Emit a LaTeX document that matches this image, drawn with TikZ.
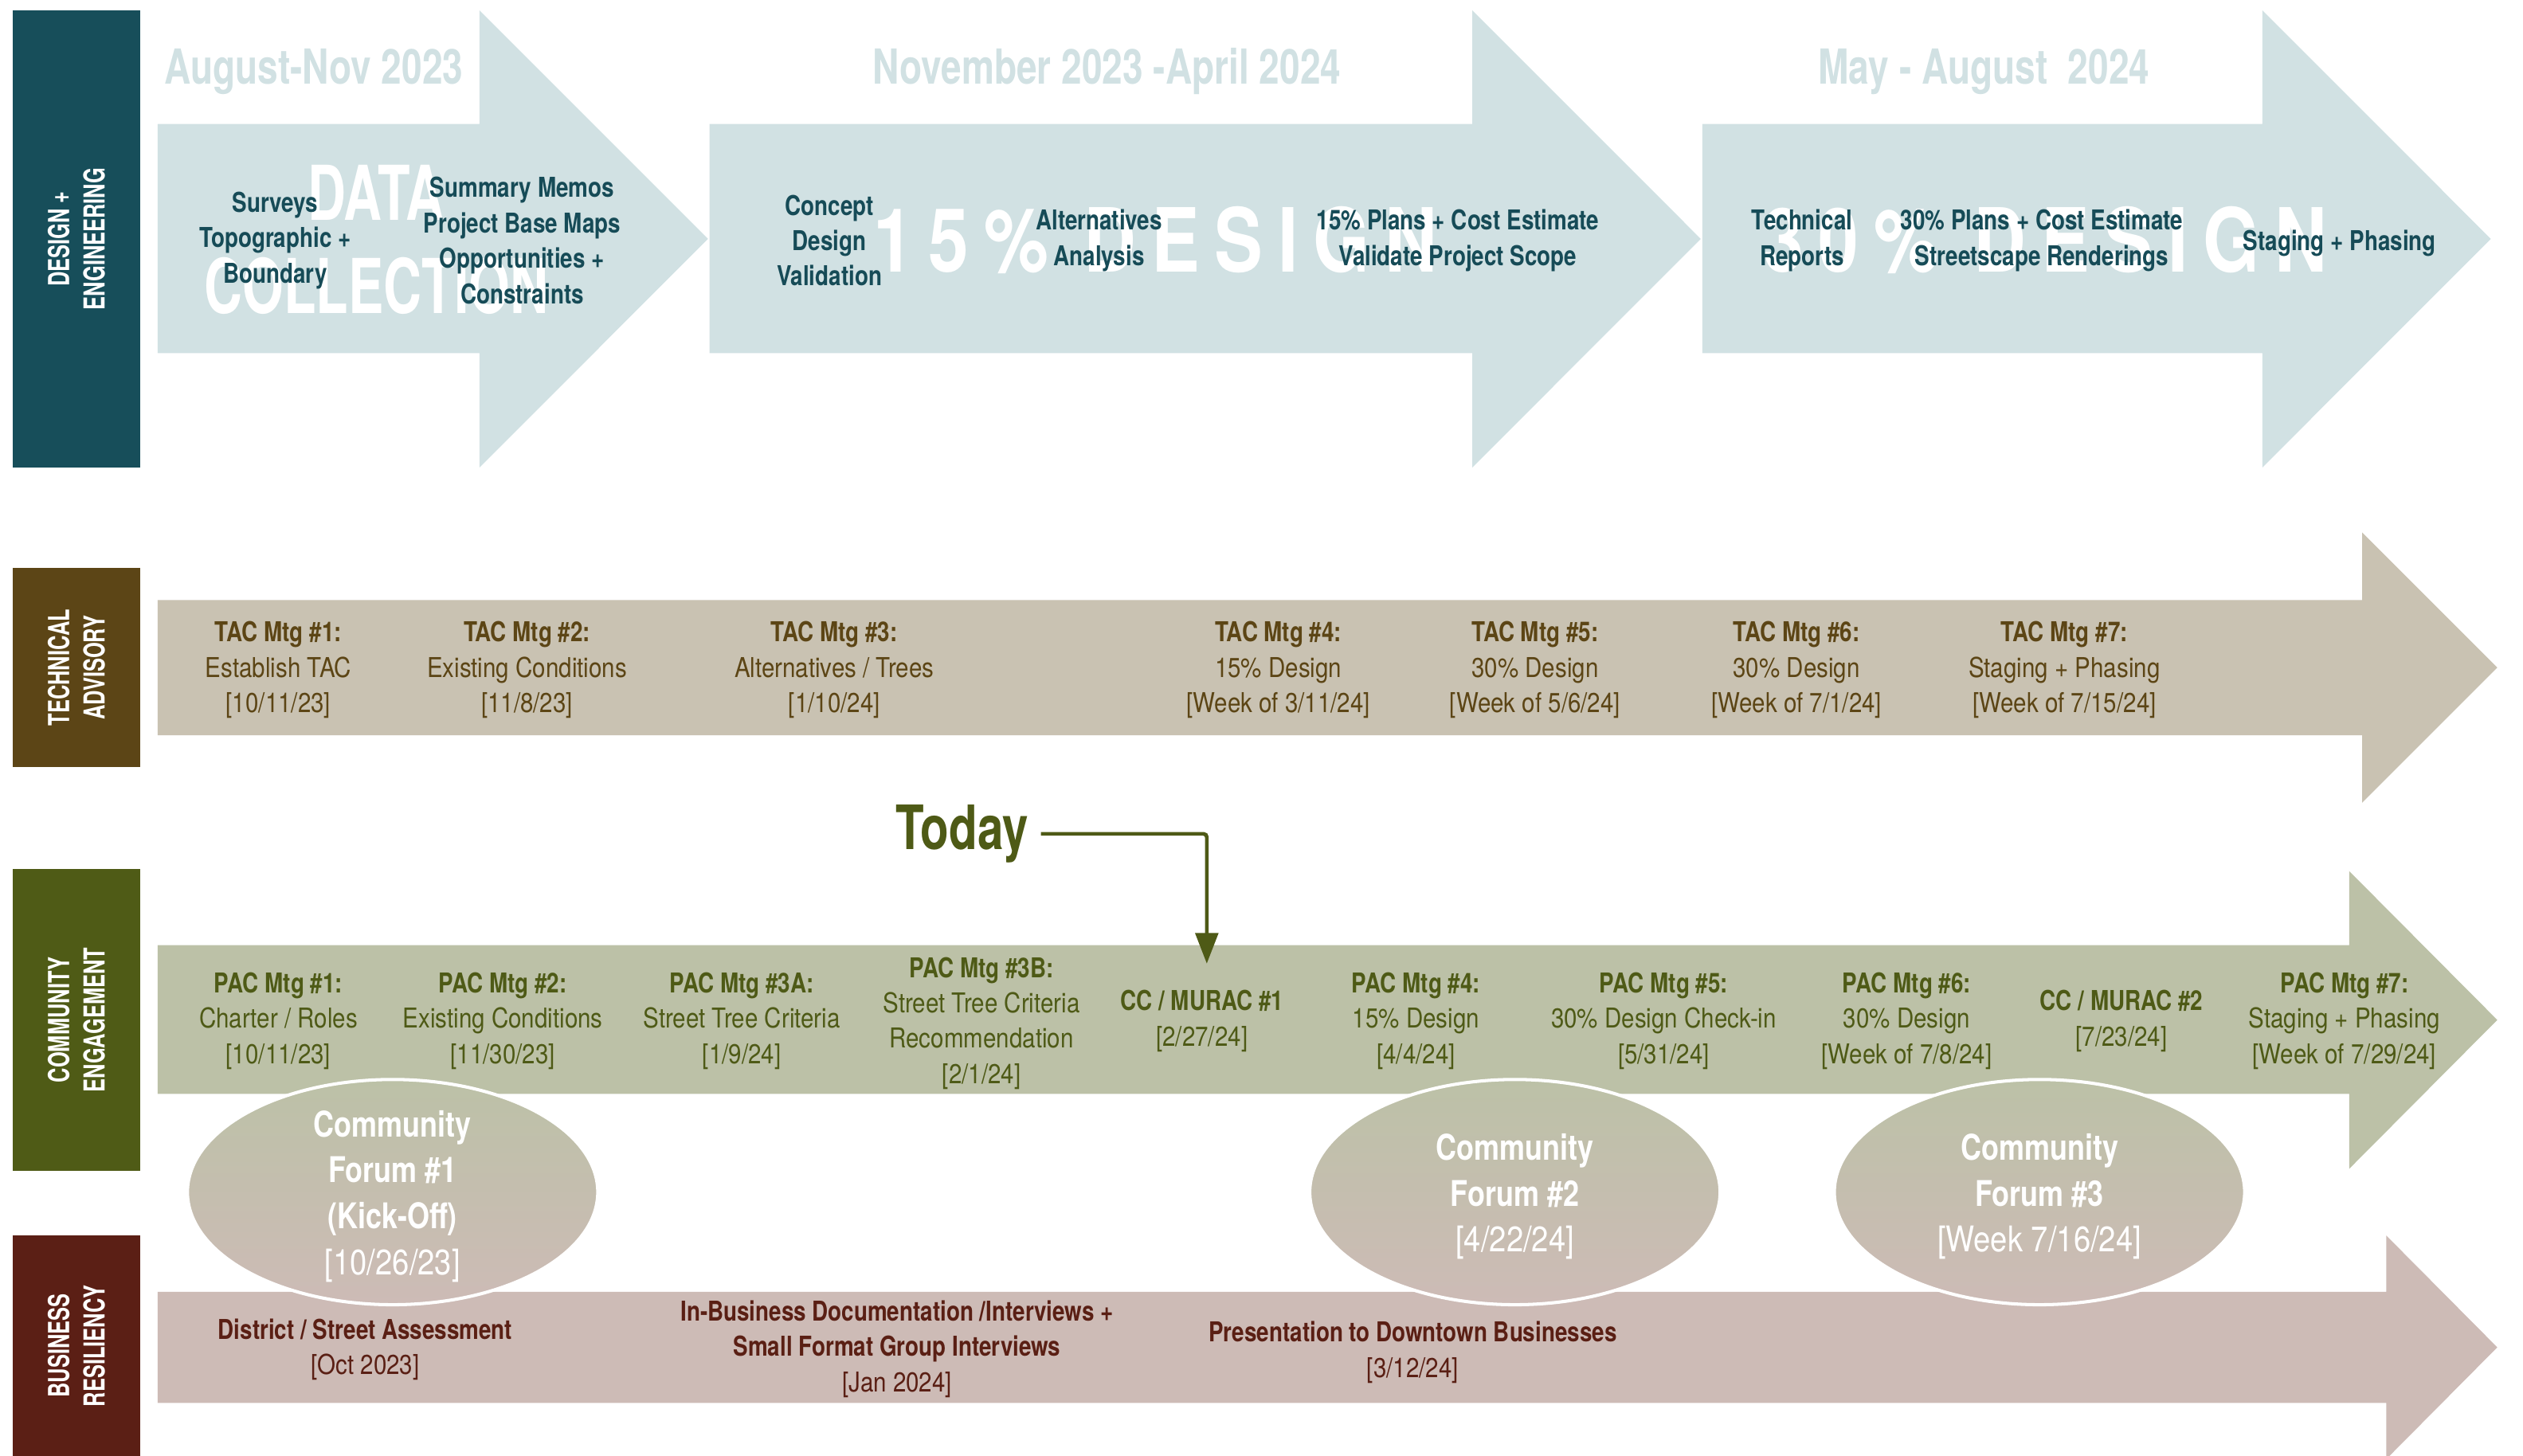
\documentclass[tikz,border=0pt]{standalone}
\usepackage{fontspec}
\setmainfont{TeX Gyre Heros}
\newfontfamily\condR{TeX Gyre Heros}[FakeStretch=0.86]
\newfontfamily\condB{TeX Gyre Heros}[FakeStretch=0.81]
\newfontfamily\condT{TeX Gyre Heros}[FakeStretch=0.76]
\newfontfamily\condW{TeX Gyre Heros}[FakeStretch=0.70]
\newfontfamily\condL{TeX Gyre Heros}[FakeStretch=0.82, LetterSpace=17]
\usetikzlibrary{shapes.geometric, arrows.meta}
\definecolor{deBar}{HTML}{174E5A}
\definecolor{deText}{HTML}{164B57}
\definecolor{deFill}{HTML}{D1E1E3}
\definecolor{taBar}{HTML}{5C4516}
\definecolor{taText}{HTML}{5C4515}
\definecolor{taFill}{HTML}{C9C2B2}
\definecolor{ceBar}{HTML}{4F5B16}
\definecolor{ceText}{HTML}{4E5A16}
\definecolor{ceFill}{HTML}{BCC1A7}
\definecolor{brBar}{HTML}{5B1F15}
\definecolor{brText}{HTML}{5A1F14}
\definecolor{brFill}{HTML}{CDBBB6}
\begin{document}
\begin{tikzpicture}[x=1pt, y=-1pt,
  sidebar/.style={rotate=90, inner sep=0pt, text=white, align=center,
    font=\condW\bfseries\fontsize{18}{22}\selectfont, minimum height=79.2pt},
  deitem/.style={text=deText, align=center, inner sep=0pt,
    font=\condB\bfseries\fontsize{17}{22}\selectfont},
  datehead/.style={text=deFill, anchor=base, inner sep=0pt,
    font=\condT\bfseries\fontsize{30}{34}\selectfont},
  wmark/.style={text=white, anchor=base, inner sep=0pt,
    font=\condW\bfseries\fontsize{47}{58}\selectfont},
  wspaced/.style={text=white, anchor=base, inner sep=0pt,
    font=\condL\bfseries\fontsize{55}{60}\selectfont},
  tac/.style={text=taText, align=center, inner sep=0pt,
    font=\condR\fontsize{17}{22}\selectfont},
  pac/.style={text=ceText, align=center, inner sep=0pt,
    font=\condR\fontsize{17}{22}\selectfont},
  bri/.style={text=brText, align=center, inner sep=0pt,
    font=\condR\fontsize{17}{22}\selectfont},
  forum/.style={ellipse, minimum width=255pt, minimum height=140pt, inner sep=0pt,
    draw=white, line width=2pt, top color=ceFill, bottom color=brFill},
  forumtxt/.style={text=white, align=center, inner sep=0pt,
    font=\condR\fontsize{22}{28.5}\selectfont},
  todayline/.style={draw=ceText, line width=2.3pt, rounded corners=2pt,
    shorten <=7.5pt, -{Triangle[length=19pt,width=14pt]}}
]
\useasboundingbox (0,0) rectangle (1568,905);

% ---------- side bars ----------
\node[sidebar, fill=deBar, minimum width=284.2pt] (sDE) at (47.5,148.5) {DESIGN +\\ENGINEERING};
\node[sidebar, fill=taBar, minimum width=124pt] (sTA) at (47.5,415) {TECHNICAL\\ADVISORY};
\node[sidebar, fill=ceBar, minimum width=188pt] (sCE) at (47.5,634) {COMMUNITY\\ENGAGEMENT};
\node[sidebar, fill=brBar, minimum width=137pt] (sBR) at (47.5,836.5) {BUSINESS\\RESILIENCY};

% ---------- arrows ----------
\fill[deFill] (98,77) -- (298,77) -- (298,6.4) -- (440,148.5) -- (298,290.6) -- (298,219.5) -- (98,219.5) -- cycle;
\fill[deFill] (441,77) -- (915,77) -- (915,6.4) -- (1057,148.5) -- (915,290.6) -- (915,219.5) -- (441,219.5) -- cycle;
\fill[deFill] (1058,77) -- (1406,77) -- (1406,6.4) -- (1548,148.5) -- (1406,290.6) -- (1406,219.5) -- (1058,219.5) -- cycle;
\fill[taFill] (98,373) -- (1468,373) -- (1468,331) -- (1552,415) -- (1468,499) -- (1468,457) -- (98,457) -- cycle;
\fill[ceFill] (98,587.5) -- (1460,587.5) -- (1460,541.5) -- (1552,634) -- (1460,726.5) -- (1460,680) -- (98,680) -- cycle;
\fill[brFill] (98,803) -- (1483,803) -- (1483,768) -- (1552,837.5) -- (1483,907) -- (1483,872) -- (98,872) -- cycle;

% ---------- date headers ----------
\node[datehead] (h1) at (195,52) {August-Nov 2023};
\node[datehead] (h2) at (688,52) {November 2023 -April 2024};
\node[datehead] (h3) at (1233,52) {May - August\ \ 2024};

% ---------- watermarks ----------
\node[wmark] (wdata) at (233.5,137) {DATA};
\node[wmark] (wcoll) at (234,195) {COLLECTION};
\node[wspaced] (w15) at (718,169) {15\% DESIGN};
\node[wspaced] (w30) at (1271,169) {30\% DESIGN};

% ---------- design + engineering items ----------
\node[deitem] (d1) at (171,149.5) {Surveys\\Topographic +\\Boundary};
\node[deitem] (d2) at (324.5,149.5) {Summary Memos\\Project Base Maps\\Opportunities +\\Constraints};
\node[deitem] (d3) at (515.5,149.5) {Concept\\Design\\Validation};
\node[deitem] (d4) at (683,149.5) {Alternatives\\Analysis};
\node[deitem] (d5) at (906,149.5) {15\% Plans + Cost Estimate\\Validate Project Scope};
\node[deitem] (d6) at (1120,149.5) {Technical\\Reports};
\node[deitem] (d7) at (1269,149.5) {30\% Plans + Cost Estimate\\Streetscape Renderings};
\node[deitem] (d8) at (1454,151) {Staging + Phasing};

% ---------- technical advisory ----------
\node[tac] (t1) at (173,416.5) {{\condB\bfseries TAC Mtg \#1:}\\Establish TAC\\{}[10/11/23]};
\node[tac] (t2) at (327.5,416.5) {{\condB\bfseries TAC Mtg \#2:}\\Existing Conditions\\{}[11/8/23]};
\node[tac] (t3) at (518.5,416.5) {{\condB\bfseries TAC Mtg \#3:}\\Alternatives / Trees\\{}[1/10/24]};
\node[tac] (t4) at (794.5,416.5) {{\condB\bfseries TAC Mtg \#4:}\\15\% Design\\{}[Week of 3/11/24]};
\node[tac] (t5) at (954,416.5) {{\condB\bfseries TAC Mtg \#5:}\\30\% Design\\{}[Week of 5/6/24]};
\node[tac] (t6) at (1116.5,416.5) {{\condB\bfseries TAC Mtg \#6:}\\30\% Design\\{}[Week of 7/1/24]};
\node[tac] (t7) at (1283,416.5) {{\condB\bfseries TAC Mtg \#7:}\\Staging + Phasing\\{}[Week of 7/15/24]};

% ---------- community engagement ----------
\node[pac] (p1) at (173,634.6) {{\condB\bfseries PAC Mtg \#1:}\\Charter / Roles\\{}[10/11/23]};
\node[pac] (p2) at (312.5,634.6) {{\condB\bfseries PAC Mtg \#2:}\\Existing Conditions\\{}[11/30/23]};
\node[pac] (p3) at (461,634.6) {{\condB\bfseries PAC Mtg \#3A:}\\Street Tree Criteria\\{}[1/9/24]};
\node[pac] (p4) at (610,636) {{\condB\bfseries PAC Mtg \#3B:}\\Street Tree Criteria\\Recommendation\\{}[2/1/24]};
\node[pac] (cc1) at (747,634.6) {{\condB\bfseries CC / MURAC \#1}\\{}[2/27/24]};
\node[pac] (p5) at (880,634.6) {{\condB\bfseries PAC Mtg \#4:}\\15\% Design\\{}[4/4/24]};
\node[pac] (p6) at (1034,634.6) {{\condB\bfseries PAC Mtg \#5:}\\30\% Design Check-in\\{}[5/31/24]};
\node[pac] (p7) at (1185,634.6) {{\condB\bfseries PAC Mtg \#6:}\\30\% Design\\{}[Week of 7/8/24]};
\node[pac] (cc2) at (1318.5,634.6) {{\condB\bfseries CC / MURAC \#2}\\{}[7/23/24]};
\node[pac] (p8) at (1457,634.6) {{\condB\bfseries PAC Mtg \#7:}\\Staging + Phasing\\{}[Week of 7/29/24]};

% ---------- business resiliency ----------
\node[bri] (b1) at (227,838.9) {{\condB\bfseries District / Street Assessment}\\{}[Oct 2023]};
\node[bri] (b2) at (557.5,838.6) {{\condB\bfseries In-Business Documentation /Interviews +}\\{\condB\bfseries Small Format Group Interviews}\\{}[Jan 2024]};
\node[bri] (b3) at (878,840.5) {{\condB\bfseries Presentation to Downtown Businesses}\\{}[3/12/24]};

% ---------- community forums ----------
\node[forum] (fm1) at (244,741) {};
\node[forum] (fm2) at (941.5,741) {};
\node[forum] (fm3) at (1267.5,741) {};
\node[forumtxt] (ft1) at (244,743.6) {{\condB\bfseries Community}\\{\condB\bfseries Forum \#1}\\{\condB\bfseries (Kick-Off)}\\{}[10/26/23]};
\node[forumtxt] (ft2) at (941.5,743.8) {{\condB\bfseries Community}\\{\condB\bfseries Forum \#2}\\{}[4/22/24]};
\node[forumtxt] (ft3) at (1267.5,743.8) {{\condB\bfseries Community}\\{\condB\bfseries Forum \#3}\\{}[Week 7/16/24]};

% ---------- today marker ----------
\node[text=ceText, anchor=base, inner sep=0pt,
  font=\condT\bfseries\fontsize{38}{40}\selectfont] (today) at (598,528) {Today};
\coordinate (todaytip) at (750,599);
\draw[todayline] (today.east) -| (todaytip);
\end{tikzpicture}
\end{document}
